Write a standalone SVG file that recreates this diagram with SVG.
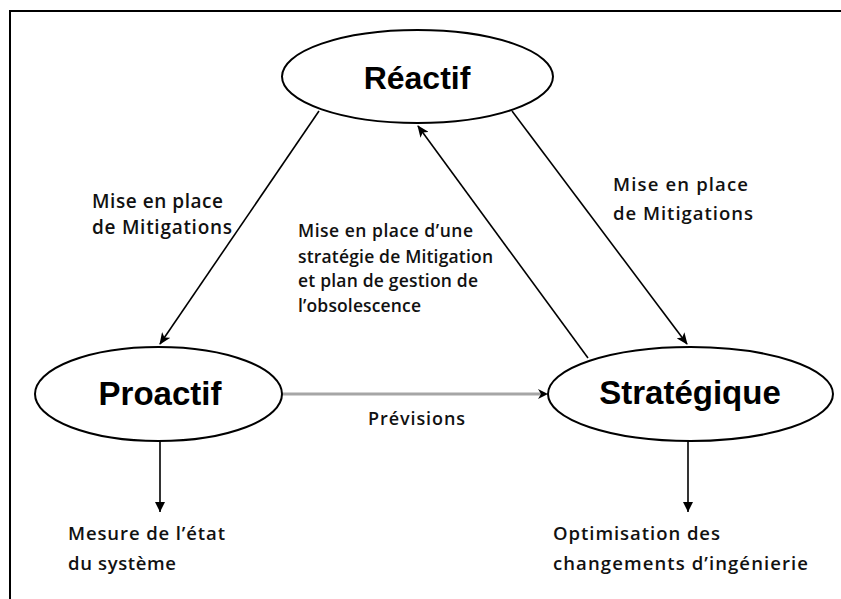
<svg xmlns="http://www.w3.org/2000/svg" width="841" height="599" viewBox="0 0 841 599">
  <defs>
    <style>
      .node { fill: #ffffff; stroke: #000000; stroke-width: 2; }
      .title { font-family: "Liberation Sans", Arial, sans-serif; font-weight: bold; fill: #000000; text-anchor: middle; }
      .lbl { font-family: "Open Sans", "DejaVu Sans", sans-serif; font-weight: 600; fill: #111111; }
      .edge { fill: none; stroke: #000000; stroke-width: 1.6; }
      .flow { fill: none; stroke: #a6a6a6; stroke-width: 3; }
      .frame { fill: none; stroke: #000000; stroke-width: 2; }
    </style>
    <marker id="head" viewBox="0 0 12 10" refX="11" refY="5" markerWidth="12" markerHeight="10" markerUnits="userSpaceOnUse" orient="auto">
      <path d="M0,0 L12,5 L0,10 L3,5 Z" fill="#000000"/>
    </marker>
    <marker id="headDown" viewBox="0 0 10 10" refX="10" refY="5" markerWidth="10" markerHeight="10" markerUnits="userSpaceOnUse" orient="auto">
      <path d="M0,0 L10,5 L0,10 Z" fill="#000000"/>
    </marker>
  </defs>

  <!-- page frame -->
  <path class="frame" d="M10,599 L10,11 L841,11"/>

  <!-- connectors -->
  <g id="connectors">
    <line class="edge" x1="319" y1="111" x2="160" y2="344" marker-end="url(#head)"/>
    <line class="edge" x1="512" y1="111" x2="687" y2="344" marker-end="url(#head)"/>
    <line class="edge" x1="588" y1="358" x2="418" y2="126" marker-end="url(#head)"/>
    <line class="flow" x1="282" y1="394" x2="541" y2="394"/>
    <path d="M538,389 L548,394 L538,399 L541,394 Z" fill="#000000"/>
    <line class="edge" x1="160" y1="441" x2="160" y2="512" stroke-width="2" marker-end="url(#headDown)"/>
    <line class="edge" x1="688" y1="441" x2="688" y2="512" stroke-width="2" marker-end="url(#headDown)"/>
  </g>

  <!-- nodes -->
  <g id="reactif">
    <ellipse class="node" cx="417.5" cy="76.5" rx="135.5" ry="46.5"/>
    <text class="title" x="417" y="89" font-size="32">Réactif</text>
  </g>
  <g id="proactif">
    <ellipse class="node" cx="158.5" cy="394" rx="123.5" ry="47"/>
    <text class="title" x="160" y="405" font-size="33">Proactif</text>
  </g>
  <g id="strategique">
    <ellipse class="node" cx="690.5" cy="394" rx="142.5" ry="47"/>
    <text class="title" x="690" y="404" font-size="33">Stratégique</text>
  </g>

  <!-- edge labels -->
  <g id="labels">
    <text class="lbl" font-size="19" x="92" y="208" textLength="131">Mise en place</text>
    <text class="lbl" font-size="19" x="92" y="234" textLength="140">de Mitigations</text>

    <text class="lbl" font-size="18.5" x="613" y="191" textLength="135">Mise en place</text>
    <text class="lbl" font-size="18.5" x="613" y="220" textLength="140">de Mitigations</text>

    <text class="lbl" font-size="17.5" x="298" y="237" textLength="175">Mise en place d’une</text>
    <text class="lbl" font-size="17.5" x="298" y="263" textLength="195">stratégie de Mitigation</text>
    <text class="lbl" font-size="17.5" x="298" y="287" textLength="180">et plan de gestion de</text>
    <text class="lbl" font-size="17.5" x="298" y="312" textLength="123">l’obsolescence</text>

    <text class="lbl" font-size="18" x="368" y="425" textLength="97">Prévisions</text>

    <text class="lbl" font-size="18.5" x="68" y="540" textLength="157">Mesure de l’état</text>
    <text class="lbl" font-size="18.5" x="68" y="570" textLength="108">du système</text>

    <text class="lbl" font-size="18.5" x="553" y="540" textLength="167">Optimisation des</text>
    <text class="lbl" font-size="18.5" x="553" y="570" textLength="255">changements d’ingénierie</text>
  </g>
</svg>
